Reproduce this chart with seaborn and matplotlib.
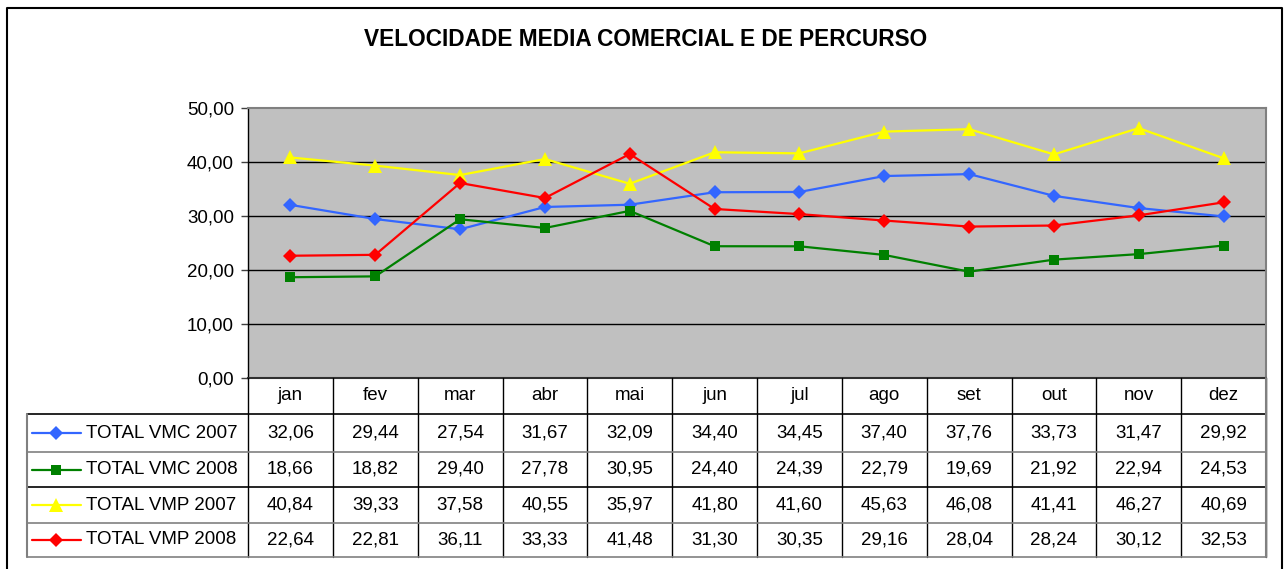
import matplotlib
matplotlib.use("Agg")
import matplotlib.pyplot as plt
import matplotlib.transforms as mtransforms
from matplotlib.lines import Line2D
import seaborn as sns
import pandas as pd

months = ["jan", "fev", "mar", "abr", "mai", "jun", "jul", "ago", "set", "out", "nov", "dez"]
vmc_2007 = [32.06, 29.44, 27.54, 31.67, 32.09, 34.40, 34.45, 37.40, 37.76, 33.73, 31.47, 29.92]
vmc_2008 = [18.66, 18.82, 29.40, 27.78, 30.95, 24.40, 24.39, 22.79, 19.69, 21.92, 22.94, 24.53]
vmp_2007 = [40.84, 39.33, 37.58, 40.55, 35.97, 41.80, 41.60, 45.63, 46.08, 41.41, 46.27, 40.69]
vmp_2008 = [22.64, 22.81, 36.11, 33.33, 41.48, 31.30, 30.35, 29.16, 28.04, 28.24, 30.12, 32.53]
series_names = ["TOTAL VMC 2007", "TOTAL VMC 2008", "TOTAL VMP 2007", "TOTAL VMP 2008"]
series_values = [vmc_2007, vmc_2008, vmp_2007, vmp_2008]
y_ticks = [0, 10, 20, 30, 40, 50]
title = "VELOCIDADE MEDIA COMERCIAL E DE PERCURSO"

colors = ["#3366FF", "#008000", "#FFFF00", "#FF0000"]
markers = ["D", "s", "^", "D"]
msizes = [7.5, 7.5, 9.5, 7.5]
FS = 13.5

sns.set_theme(style="white")
plt.rcParams["font.family"] = ["Liberation Sans", "DejaVu Sans"]
plt.rcParams["text.color"] = "black"

W, H = 1284, 569
fig = plt.figure(figsize=(W / 100, H / 100), dpi=100)
fig.patch.set_facecolor("white")


def fx(px):
    return px / W


def fy(py):
    return 1 - py / H


ax = fig.add_axes([fx(248), fy(378), fx(1266) - fx(248), fy(108) - fy(378)])
ax.set_facecolor("#C0C0C0")

rows = []
for name, vals in zip(series_names, series_values):
    for i, (m, v) in enumerate(zip(months, vals)):
        rows.append({"idx": i, "month": m, "value": v, "series": name})
df = pd.DataFrame(rows)

for y in y_ticks[1:-1]:
    ax.axhline(y, color="black", lw=1, zorder=1)

sns.lineplot(data=df, x="idx", y="value", hue="series", style="series",
             palette=dict(zip(series_names, colors)),
             markers=dict(zip(series_names, markers)),
             dashes=False, lw=1.6, markeredgewidth=0, ax=ax, legend=False,
             zorder=3)
for line, ms in zip(ax.get_lines()[len(y_ticks) - 2:], msizes):
    line.set_markersize(ms)

ax.set_xlim(-0.5, len(months) - 0.5)
ax.set_ylim(0, 50)
ax.set_yticks(y_ticks)
ax.set_yticklabels([f"{v:.2f}".replace(".", ",") for v in y_ticks], fontsize=FS)
ax.set_xticks([])
ax.set_xlabel("")
ax.set_ylabel("")
ax.tick_params(axis="y", which="both", left=True, length=5, width=1, color="#404040",
               pad=5, labelcolor="black")
for s in ["top", "right"]:
    ax.spines[s].set_color("#808080")
    ax.spines[s].set_linewidth(1.5)
ax.spines["left"].set_color("black")
ax.spines["left"].set_linewidth(1)
ax.spines["bottom"].set_color("#303030")
ax.spines["bottom"].set_linewidth(1.5)

# data table below the axis, columns aligned to the axis' x scale
blend = mtransforms.blended_transform_factory(ax.transData, fig.transFigure)
header_top, header_bot = 378, 414
row_edges = [414, 452, 487, 523, 557]
n = len(months)

for i, m in enumerate(months):
    fig.text(i, fy((header_top + header_bot) / 2), m, transform=blend,
             ha="center", va="center", fontsize=FS, color="black")
for r, vals in enumerate(series_values):
    yc = fy((row_edges[r] + row_edges[r + 1]) / 2)
    for i, v in enumerate(vals):
        fig.text(i, yc, f"{v:.2f}".replace(".", ","), transform=blend,
                 ha="center", va="center", fontsize=FS, color="black")
    # legend cell
    fig.add_artist(Line2D([fx(32), fx(81)], [yc, yc], color=colors[r], lw=1.6,
                          transform=fig.transFigure))
    fig.add_artist(Line2D([fx(56)], [yc], color=colors[r], marker=markers[r],
                          markersize=msizes[r], markeredgewidth=0, lw=0,
                          transform=fig.transFigure))
    fig.text(fx(86), yc, series_names[r], ha="left", va="center", fontsize=FS,
             color="black")

# vertical lines of the table
for i in range(n + 1):
    fig.add_artist(Line2D([i - 0.5, i - 0.5], [fy(header_top), fy(row_edges[-1])],
                          color="black", lw=1, transform=blend))
# horizontal lines
row_line_colors = ["black", "#808080", "black", "#808080", "#808080"]
for e, c in zip(row_edges, row_line_colors):
    fig.add_artist(Line2D([fx(27), fx(1266)], [fy(e), fy(e)], color=c, lw=1.2,
                          transform=fig.transFigure))
fig.add_artist(Line2D([fx(27), fx(27)], [fy(414), fy(557)], color="#808080", lw=1.5,
                      transform=fig.transFigure))
fig.add_artist(Line2D([fx(1266), fx(1266)], [fy(378), fy(557)], color="#808080", lw=1.5,
                      transform=fig.transFigure))

# outer chart border
fig.add_artist(Line2D([fx(7), fx(7), fx(1282), fx(1282)], [fy(575), fy(8), fy(8), fy(575)],
                      color="black", lw=1.5, transform=fig.transFigure))

fig.text(fx(646), fy(40), title, ha="center", va="center", fontsize=16.3,
         fontweight="bold", color="black")

fig.savefig("out.png", dpi=100)
